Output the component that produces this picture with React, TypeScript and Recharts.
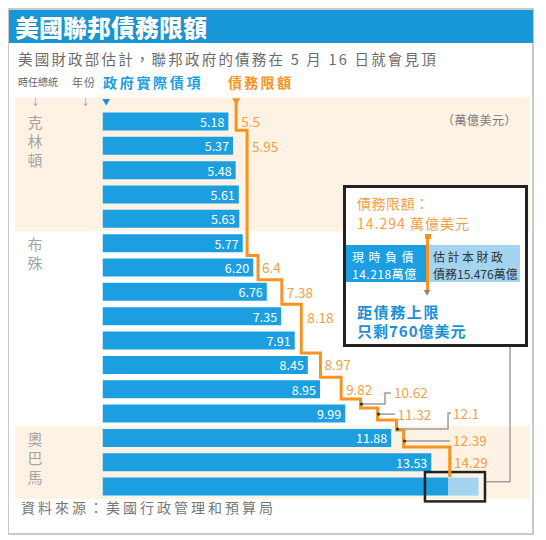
import React from "react";
import {
  Bar,
  BarChart,
  LabelList,
  Line,
  LineChart,
  ReferenceArea,
  XAxis,
  YAxis,
} from "recharts";

// fiscal years, top to bottom
const years = ["96", "97", "98", "99", "00", "01", "02", "03", "04", "05", "06", "07", "08", "09", "10", "11"];
// actual federal debt, trillion USD
const debt = [5.18, 5.37, 5.48, 5.61, 5.63, 5.77, 6.2, 6.76, 7.35, 7.91, 8.45, 8.95, 9.99, 11.88, 13.53, 14.218];
// estimate for the current fiscal year (only 11)
const debtEstimate = [null, null, null, null, null, null, null, null, null, null, null, null, null, null, null, 15.476];
// debt ceiling values and the row position (0 = top of the 96 row) where each took effect
const limitValues = [5.5, 5.95, 6.4, 7.38, 8.18, 8.97, 9.82, 10.62, 11.32, 12.1, 12.39, 14.29];
const limitFrom = [-0.3, 0.85, 6, 7, 8, 10, 11, 11.9, 12.27, 12.76, 13.17, 13.87];
const limitEnd = 15.1;
// presidents in office
const presidents = ["克林頓", "布殊", "奧巴馬"];
const presidentFrom = ["96", "01", "09"];
const presidentTo = ["00", "08", "11"];
// callout figures
const currentLimit = 14.294;
const headroom = 760;

const BLUE = "#1b9fe0";
const LIGHT = "#a3d4f0";
const ORANGE = "#f7931e";
const ORANGE_TEXT = "#f4a044";
const BEIGE = "#fdf2e4";

const W = 530;
const H = 530;
const barMargin = { top: 101.5, right: 22.4, bottom: 39.1, left: 94.5 };
const rowH = (H - barMargin.top - barMargin.bottom) / years.length;
const stepMargin = { ...barMargin, top: barMargin.top - rowH };

const rows = years.map((year, i) => ({
  year,
  debt: debt[i],
  extra: debtEstimate[i] != null ? +((debtEstimate[i] as number) - debt[i]).toFixed(3) : null,
}));

const steps = limitValues.flatMap((v, i) => [
  { x: v, pos: limitFrom[i], label: v },
  { x: v, pos: i + 1 < limitValues.length ? limitFrom[i + 1] : limitEnd },
]);

// label offsets from the start of each ceiling step, leaders for the crowded ones
const labelPlace: { dx: number; dy: number; leader?: string; y0?: number }[] = [
  { dx: 5, dy: 19 },
  { dx: 5, dy: 16 },
  { dx: 4, dy: 11.5 },
  { dx: 5, dy: 12 },
  { dx: 6, dy: 13 },
  { dx: 4, dy: 11 },
  { dx: 5, dy: 12 },
  { dx: 33.5, dy: -7, leader: "M0,5H24.4V-6H30.4", y0: 5 },
  { dx: 20, dy: 6, leader: "M0,6H17.4", y0: 6 },
  { dx: 56.5, dy: -7, leader: "M0,9H51.5V-7H54.5", y0: 9 },
  { dx: 49.4, dy: 10, leader: "M0,11H46.4", y0: 11 },
  { dx: 4.3, dy: 15 },
];

const bandFill = [true, false, true];
const bandPadTop = [12, 0, 0];
const calloutSpan = [13.27, 15.74];

function renderBand(p: any, i: number) {
  const name = presidents[i];
  return (
    <g>
      {bandFill[i] ? (
        <rect x={7} y={p.y - bandPadTop[i]} width={515} height={p.height + bandPadTop[i]} fill={BEIGE} />
      ) : null}
      {name.split("").map((ch, k) => (
        <text
          key={k}
          x={27}
          y={p.y + rowH / 2 + k * 19}
          textAnchor="middle"
          dominantBaseline="central"
          fontSize={15}
          fill="#a5a5a5"
        >
          {ch}
        </text>
      ))}
    </g>
  );
}

function renderYear(p: any) {
  return (
    <text x={77} y={p.y} textAnchor="middle" dominantBaseline="central" fontSize={13} fontWeight={600} fill="#5e5e5e">
      {p.payload.value}
    </text>
  );
}

function renderDebtLabel(p: any) {
  const i = p.index;
  if (i == null || debtEstimate[i] != null) return null;
  return (
    <text
      x={p.x + p.width - 4}
      y={p.y + p.height / 2}
      textAnchor="end"
      dominantBaseline="central"
      fontSize={12.5}
      fill="#fff"
    >
      {debt[i].toFixed(2)}
    </text>
  );
}

function renderLimitLabel(p: any) {
  if (p.value == null || p.index == null) return null;
  const place = labelPlace[Math.floor(p.index / 2)];
  return (
    <g transform={`translate(${p.x},${p.y})`}>
      {place.leader ? (
        <>
          <path d={place.leader} fill="none" stroke="#9c9c9c" strokeWidth={1.5} />
          <circle cx={1} cy={place.y0} r={1.6} fill="#333" />
        </>
      ) : null}
      <text x={place.dx} y={place.dy} dominantBaseline="central" fontSize={13.5} fill={ORANGE_TEXT}>
        {String(p.value)}
      </text>
    </g>
  );
}

function renderStartDot(p: any) {
  if (p.index !== 0) return <g key={p.index} />;
  return <path key="start" d={`M${p.cx - 4},${p.cy - 4}H${p.cx + 4}L${p.cx},${p.cy + 3}Z`} fill={ORANGE} />;
}

function renderCallout(p: any) {
  const cy = p.y + p.height / 2;
  return (
    <g>
      <rect x={p.x} y={p.y - 2.5} width={p.width} height={p.height + 5} fill="none" stroke="#222" strokeWidth={2.5} />
      <path d={`M${p.x + p.width + 1},${cy - 5}H502V339`} fill="none" stroke="#a0a0a0" strokeWidth={1.5} />
    </g>
  );
}

function Txt(props: {
  x: number;
  cy: number;
  size: number;
  color: string;
  spacing?: number;
  weight?: number;
  children: React.ReactNode;
}) {
  const { x, cy, size, color, spacing = 0, weight = 400, children } = props;
  return (
    <div
      style={{
        position: "absolute",
        left: x,
        top: cy - size,
        height: size * 2,
        lineHeight: `${size * 2}px`,
        fontSize: size,
        color,
        letterSpacing: spacing,
        fontWeight: weight,
        whiteSpace: "nowrap",
      }}
    >
      {children}
    </div>
  );
}

export default function App() {
  const last = years.length - 1;
  return (
    <div
      style={{
        position: "relative",
        width: W,
        height: H,
        fontFamily: '"Noto Sans CJK TC", "Noto Sans", sans-serif',
      }}
    >
      <div
        style={{
          position: "absolute",
          left: -1,
          top: 0,
          width: 527,
          height: 527,
          border: "2px solid #c9c9c9",
          boxSizing: "border-box",
        }}
      />
      <div
        style={{
          position: "absolute",
          left: 1,
          top: 2,
          width: 524,
          height: 33,
          background: "#1797d8",
          color: "#fff",
          fontSize: 24,
          fontWeight: 900,
          lineHeight: "33px",
          paddingLeft: 6,
          boxSizing: "border-box",
          textShadow: "0 0 1px #0b5f8f",
        }}
      >
        美國聯邦債務限額
      </div>
      <Txt x={10} cy={50} size={14.5} color="#6b6b6b" spacing={2.2}>
        美國財政部估計，聯邦政府的債務在 5 月 16 日就會見頂
      </Txt>

      <div style={{ position: "absolute", left: 0, top: 0 }}>
        <BarChart layout="vertical" width={W} height={H} data={rows} margin={barMargin} barSize={18}>
          <XAxis type="number" domain={[0, 17]} hide allowDataOverflow />
          <YAxis
            type="category"
            dataKey="year"
            width={0}
            axisLine={false}
            tickLine={false}
            interval={0}
            tick={renderYear}
          />
          {presidents.map((name, i) => (
            <ReferenceArea
              key={name}
              y1={presidentFrom[i]}
              y2={presidentTo[i]}
              ifOverflow="visible"
              shape={(p: any) => renderBand(p, i)}
            />
          ))}
          <Bar dataKey="debt" stackId="d" fill={BLUE} isAnimationActive={false}>
            <LabelList dataKey="debt" content={renderDebtLabel} />
          </Bar>
          <Bar dataKey="extra" stackId="d" fill={LIGHT} isAnimationActive={false} />
        </BarChart>
      </div>

      <div style={{ position: "absolute", left: 0, top: 0, pointerEvents: "none" }}>
        <LineChart width={W} height={H} data={steps} margin={stepMargin}>
          <XAxis type="number" dataKey="x" domain={[0, 17]} hide allowDataOverflow />
          <YAxis type="number" domain={[-1, 16]} reversed hide allowDataOverflow />
          <ReferenceArea
            x1={calloutSpan[0]}
            x2={calloutSpan[1]}
            y1={last}
            y2={last + 1}
            ifOverflow="visible"
            shape={renderCallout}
          />
          <Line
            type="linear"
            dataKey="pos"
            stroke={ORANGE}
            strokeWidth={3}
            strokeLinejoin="miter"
            dot={renderStartDot}
            activeDot={false}
            isAnimationActive={false}
          >
            <LabelList dataKey="label" content={renderLimitLabel} />
          </Line>
        </LineChart>
      </div>

      {/* column headers */}
      <Txt x={10} cy={74} size={10} color="#666">時任總統</Txt>
      <Txt x={64} cy={74} size={11} color="#666" spacing={1}>年份</Txt>
      <Txt x={95} cy={74} size={14} color="#1a9ee0" spacing={2.7} weight={700}>政府實際債項</Txt>
      <Txt x={220} cy={74} size={14} color={ORANGE} spacing={2.3} weight={700}>債務限額</Txt>
      <Txt x={23} cy={94} size={9} color="#999">↓</Txt>
      <Txt x={73} cy={94} size={9} color="#999">↓</Txt>
      <Txt x={94} cy={94} size={8} color="#1a8fd6">▼</Txt>
      <Txt x={434} cy={112} size={12} color="#777" spacing={0.5}>（萬億美元）</Txt>
      <Txt x={13} cy={499} size={14} color="#777" spacing={3}>資料來源：美國行政管理和預算局</Txt>

      {/* callout box */}
      <div
        style={{
          position: "absolute",
          left: 335,
          top: 177,
          width: 185,
          height: 162,
          border: "3px solid #222",
          background: "#fff",
          boxSizing: "border-box",
        }}
      >
        <Txt x={11} cy={15} size={14} color={ORANGE_TEXT} spacing={0.5}>債務限額：</Txt>
        <Txt x={11} cy={35} size={14} color={ORANGE_TEXT} spacing={1}>{`${currentLimit} 萬億美元`}</Txt>
        <div style={{ position: "absolute", left: 0, top: 57, width: 80, height: 37, background: BLUE }} />
        <div style={{ position: "absolute", left: 80, top: 57, width: 94, height: 37, background: LIGHT }} />
        <div style={{ position: "absolute", left: 80, top: 48, width: 2.5, height: 54, background: ORANGE }} />
        <div style={{ position: "absolute", left: 78.5, top: 46, width: 6, height: 5, background: ORANGE }} />
        <Txt x={77.5} cy={104} size={7} color="#888">▼</Txt>
        <Txt x={6} cy={69} size={12} color="#fff" spacing={4.5}>現時負債</Txt>
        <Txt x={6} cy={86} size={12} color="#fff" spacing={0.5}>{`${debt[last]}萬億`}</Txt>
        <Txt x={87} cy={69} size={12} color="#333" spacing={2.5}>估計本財政</Txt>
        <Txt x={87} cy={86} size={12} color="#333">{`債務${debtEstimate[last]}萬億`}</Txt>
        <Txt x={11} cy={124} size={15} color="#1a8fd6" spacing={1.6} weight={700}>距債務上限</Txt>
        <Txt x={11} cy={143} size={15} color="#1a8fd6" spacing={1} weight={700}>{`只剩${headroom}億美元`}</Txt>
      </div>
    </div>
  );
}
